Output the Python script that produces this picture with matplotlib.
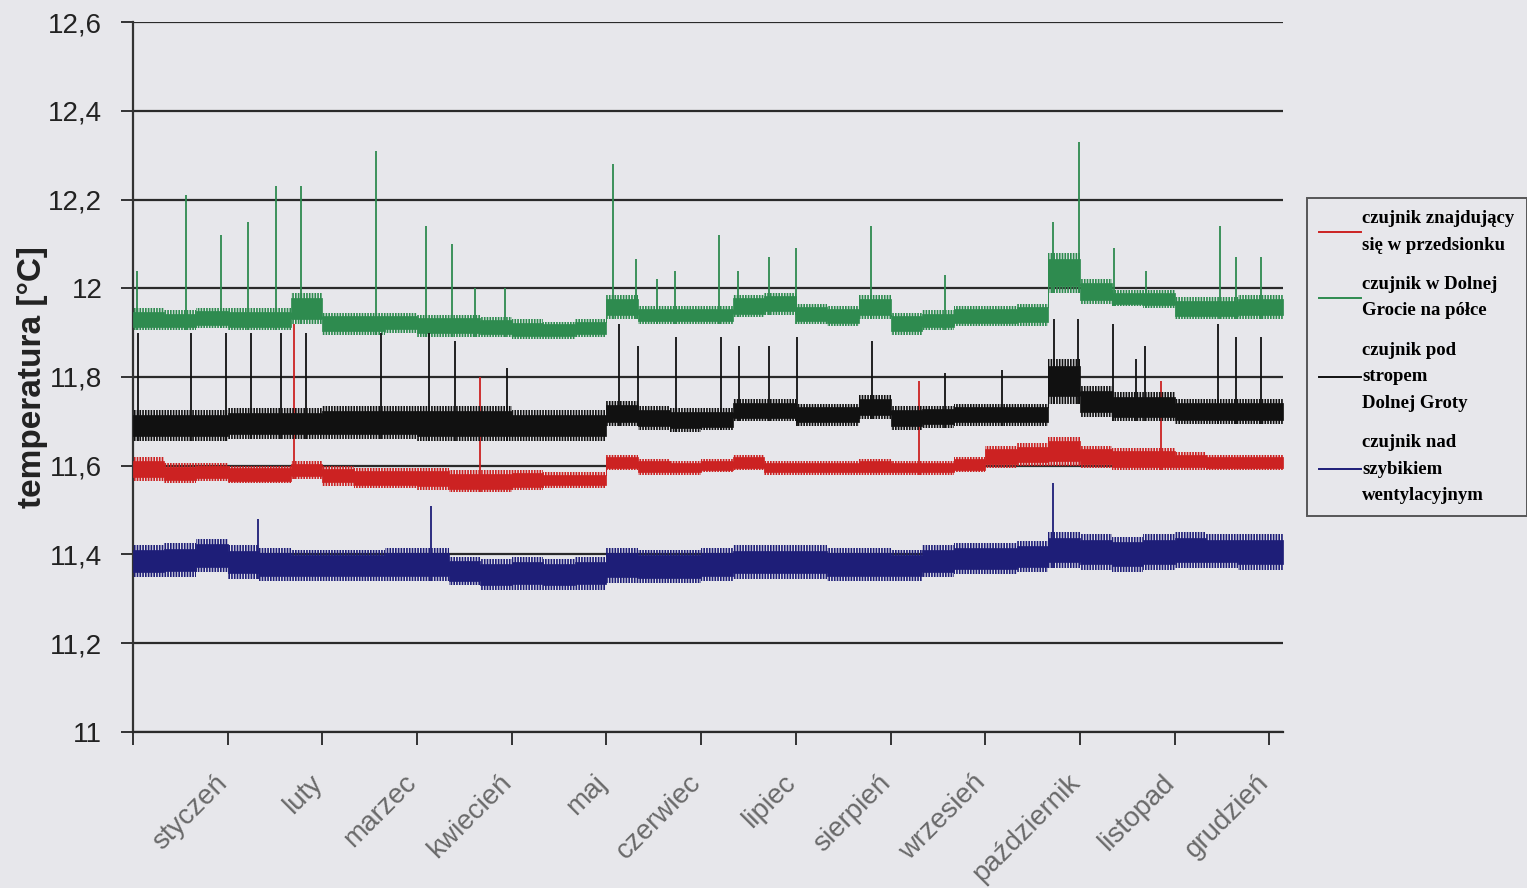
import numpy as np
import matplotlib.pyplot as plt
from matplotlib.lines import Line2D

# months (category axis) and y ticks
months = ['styczeń', 'luty', 'marzec', 'kwiecień', 'maj', 'czerwiec',
          'lipiec', 'sierpień', 'wrzesień', 'październik', 'listopad', 'grudzień']
y_ticks = [11.0, 11.2, 11.4, 11.6, 11.8, 12.0, 12.2, 12.4, 12.6]
y_tick_labels = ['11', '11,2', '11,4', '11,6', '11,8', '12', '12,2', '12,4', '12,6']

# noise envelope per dekad (3 per month)
red_lo = [11.565, 11.56, 11.565, 11.56, 11.56, 11.57, 11.555, 11.55, 11.55,
          11.545, 11.54, 11.54, 11.545, 11.55, 11.55, 11.59, 11.58, 11.58,
          11.585, 11.59, 11.58, 11.58, 11.58, 11.58, 11.58, 11.58, 11.585,
          11.595, 11.60, 11.60, 11.595, 11.59, 11.59, 11.59, 11.59, 11.59]
red_hi = [11.62, 11.605, 11.605, 11.60, 11.60, 11.61, 11.60, 11.595, 11.595,
          11.595, 11.59, 11.59, 11.59, 11.585, 11.585, 11.625, 11.615, 11.61,
          11.615, 11.625, 11.61, 11.61, 11.61, 11.615, 11.61, 11.61, 11.62,
          11.645, 11.65, 11.665, 11.645, 11.64, 11.64, 11.63, 11.625, 11.625]

green_lo = [11.905, 11.905, 11.91, 11.905, 11.905, 11.92, 11.895, 11.895, 11.90,
            11.89, 11.89, 11.89, 11.885, 11.885, 11.89, 11.93, 11.92, 11.92,
            11.92, 11.935, 11.94, 11.92, 11.915, 11.93, 11.895, 11.905, 11.915,
            11.915, 11.915, 11.99, 11.965, 11.96, 11.955, 11.93, 11.93, 11.93]
green_hi = [11.955, 11.95, 11.955, 11.955, 11.955, 11.99, 11.945, 11.945, 11.945,
            11.94, 11.94, 11.935, 11.93, 11.925, 11.93, 11.985, 11.96, 11.96,
            11.96, 11.985, 11.99, 11.965, 11.96, 11.985, 11.945, 11.95, 11.96,
            11.96, 11.965, 12.08, 12.02, 11.995, 11.995, 11.98, 11.98, 11.985]

black_lo = [11.655, 11.655, 11.655, 11.66, 11.66, 11.66, 11.66, 11.66, 11.66,
            11.655, 11.655, 11.655, 11.655, 11.655, 11.655, 11.69, 11.68, 11.675,
            11.68, 11.70, 11.70, 11.69, 11.69, 11.705, 11.68, 11.685, 11.69,
            11.69, 11.69, 11.74, 11.71, 11.70, 11.70, 11.695, 11.695, 11.695]
black_hi = [11.725, 11.725, 11.725, 11.73, 11.73, 11.73, 11.735, 11.735, 11.735,
            11.735, 11.735, 11.735, 11.725, 11.725, 11.725, 11.745, 11.735, 11.73,
            11.73, 11.75, 11.75, 11.74, 11.74, 11.76, 11.735, 11.735, 11.74,
            11.74, 11.74, 11.84, 11.78, 11.765, 11.765, 11.75, 11.75, 11.75]

blue_lo = [11.35, 11.35, 11.36, 11.345, 11.34, 11.34, 11.34, 11.34, 11.34,
           11.34, 11.33, 11.32, 11.32, 11.32, 11.32, 11.335, 11.335, 11.335,
           11.34, 11.345, 11.345, 11.345, 11.34, 11.34, 11.34, 11.35, 11.355,
           11.355, 11.36, 11.37, 11.365, 11.36, 11.365, 11.37, 11.37, 11.365]
blue_hi = [11.42, 11.425, 11.435, 11.42, 11.415, 11.41, 11.41, 11.41, 11.415,
           11.415, 11.395, 11.39, 11.395, 11.39, 11.395, 11.415, 11.41, 11.41,
           11.415, 11.42, 11.42, 11.42, 11.415, 11.415, 11.41, 11.42, 11.425,
           11.425, 11.43, 11.45, 11.445, 11.44, 11.445, 11.45, 11.445, 11.445]

# single-reading spikes: position in months, peak value
green_spike_x = [0.04, 0.56, 0.93, 1.22, 1.51, 1.78, 2.57, 3.09, 3.37, 3.61, 3.93,
                 5.07, 5.31, 5.53, 5.72, 6.19, 6.39, 6.72, 7.00, 7.79, 8.58,
                 9.72, 9.99, 10.36, 10.70, 11.48, 11.65, 11.91]
green_spike_top = [12.04, 12.21, 12.12, 12.15, 12.23, 12.23, 12.31, 12.14, 12.10, 12.00, 12.00,
                   12.28, 12.065, 12.02, 12.04, 12.12, 12.04, 12.07, 12.09, 12.14, 12.03,
                   12.15, 12.33, 12.09, 12.04, 12.14, 12.07, 12.07]
black_spike_x = [0.05, 0.61, 0.98, 1.25, 1.56, 1.83, 2.62, 3.13, 3.40, 3.95,
                 5.13, 5.33, 5.73, 6.21, 6.40, 6.72, 7.01, 7.80, 8.58, 9.18,
                 9.73, 9.98, 10.35, 10.59, 10.69, 11.46, 11.65, 11.91]
black_spike_top = [11.90, 11.90, 11.90, 11.90, 11.90, 11.90, 11.90, 11.90, 11.88, 11.82,
                   11.92, 11.87, 11.89, 11.89, 11.87, 11.87, 11.89, 11.88, 11.81, 11.815,
                   11.93, 11.93, 11.92, 11.84, 11.87, 11.92, 11.89, 11.89]
red_spike_x = [1.70, 3.66, 8.30, 10.86]
red_spike_top = [11.92, 11.80, 11.79, 11.79]
blue_spike_x = [1.32, 3.15, 9.72]
blue_spike_top = [11.48, 11.51, 11.56]

labels = ['czujnik znajdujący\nsię w przedsionku',
          'czujnik w Dolnej\nGrocie na półce',
          'czujnik pod\nstropem\nDolnej Groty',
          'czujnik nad\nszybikiem\nwentylacyjnym']
colors = ['#cc2222', '#2e8b4f', '#111111', '#1e1e78']

plt.rcParams['hatch.linewidth'] = 1.2

x_end = 12.14  # the record runs a little past the last month tick
bg = '#e7e7eb'
fig = plt.figure(figsize=(15.27, 8.88), dpi=100, facecolor=bg)
ax = fig.add_axes([0.087, 0.176, 0.753, 0.799], facecolor=bg)

edges = np.append(np.arange(36) / 3.0, x_end)


def draw_band(lo, hi, sx, stop, color):
    xs = np.repeat(edges, 2)[1:-1]
    lo2 = np.repeat(lo, 2)
    hi2 = np.repeat(hi, 2)
    w = hi2 - lo2
    # noisy fringe as vertical strokes, solid core in the middle
    ax.fill_between(xs, lo2, hi2, facecolor='none', edgecolor=color,
                    hatch='||||||', lw=0, zorder=3)
    ax.fill_between(xs, lo2 + 0.16 * w, hi2 - 0.16 * w, color=color,
                    lw=0.5, edgecolor=color, zorder=3)
    idx = np.clip((np.array(sx) * 3).astype(int), 0, 35)
    base = np.array(lo)[idx]
    ax.vlines(sx, base, stop, color=color, lw=1.3, zorder=3)


series = [(red_lo, red_hi, red_spike_x, red_spike_top),
          (green_lo, green_hi, green_spike_x, green_spike_top),
          (black_lo, black_hi, black_spike_x, black_spike_top),
          (blue_lo, blue_hi, blue_spike_x, blue_spike_top)]
for (lo, hi, sx, stop), c in zip(series, colors):
    draw_band(lo, hi, sx, stop, c)

for v in y_ticks:
    ax.axhline(v, color='#2a2a2a', lw=1.6, zorder=1)

ax.set_xlim(0, x_end)
ax.set_ylim(11.0, 12.6)
ax.set_yticks(y_ticks)
ax.set_yticklabels(y_tick_labels, fontsize=20, family='Liberation Sans', color='#222222')
ax.set_xticks(range(13))
ax.set_xticklabels([])
ax.tick_params(axis='x', direction='out', length=9, width=1.4, color='#333333')
ax.tick_params(axis='y', direction='out', length=9, width=1.4, color='#333333', pad=13)

for s in ['top', 'right']:
    ax.spines[s].set_visible(False)
ax.spines['left'].set_color('#333333')
ax.spines['left'].set_linewidth(1.6)
ax.spines['bottom'].set_color('#2a2a2a')
ax.spines['bottom'].set_linewidth(1.6)

trans = ax.get_xaxis_transform()
for i, m in enumerate(months):
    ax.annotate(m, xy=(i + 0.5, 0), xycoords=trans, xytext=(34, -38),
                textcoords='offset pixels', ha='right', va='top', rotation=45,
                rotation_mode='anchor', fontsize=20, family='Liberation Sans',
                color='#6a6a6a')

ax.set_ylabel('temperatura [°C]', fontsize=24, fontweight='bold',
              family='Liberation Sans', color='#222222', labelpad=0)

handles = [Line2D([0], [0], color=c, lw=1.4) for c in colors]
leg = fig.legend(handles, labels, loc='upper left', bbox_to_anchor=(0.856, 0.777),
                 prop={'family': 'Liberation Serif', 'weight': 'bold', 'size': 13.5},
                 frameon=True, fancybox=False, edgecolor='#333333', facecolor=bg,
                 handlelength=2.2, handletextpad=0.1, labelspacing=1.2,
                 borderpad=0.65, borderaxespad=0)
leg.get_frame().set_linewidth(1.4)
for t in leg.get_texts():
    t.set_linespacing(1.72)

fig.savefig('out.png', dpi=100, facecolor=bg)
